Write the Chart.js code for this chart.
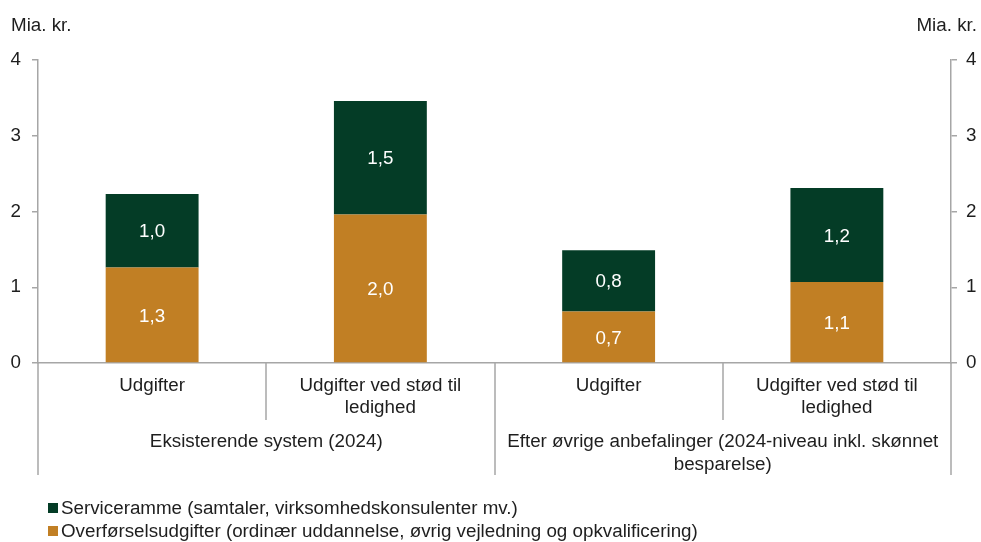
<!DOCTYPE html>
<html>
<head>
<meta charset="utf-8">
<script src="https://cdn.jsdelivr.net/npm/chart.js@4"></script>
<style>
  html, body { margin: 0; padding: 0; background: #ffffff; }
  #wrap { width: 981px; height: 542px; position: relative; }
</style>
</head>
<body>
<div id="wrap"><canvas id="c" width="981" height="542"></canvas></div>
<script>
// Categories (inner axis labels) and their groups
const categories = ['Udgifter', ['Udgifter ved stød til', 'ledighed'], 'Udgifter', ['Udgifter ved stød til', 'ledighed']];
const groupLabels = [['Eksisterende system (2024)'], ['Efter øvrige anbefalinger (2024-niveau inkl. skønnet', 'besparelse)']];
const groupSizes = [2, 2];

// Series values, bn. DKK
const transferValues = [1.26, 1.96, 0.68, 1.07];
const serviceValues = [0.97, 1.50, 0.81, 1.24];

const transferName = 'Overførselsudgifter (ordinær uddannelse, øvrig vejledning og opkvalificering)';
const serviceName = 'Serviceramme (samtaler, virksomhedskonsulenter mv.)';
const unitLabel = 'Mia. kr.';
const yTicks = [0, 1, 2, 3, 4];

const FONT = '"Liberation Sans", Arial, sans-serif';
const FS = 18.8;
const TEXT = '#1e1e1e';
const AXIS = '#a6a6a6';
const GREEN = '#043c26';
const ORANGE = '#c17f24';

const fmt = v => v.toFixed(1).replace('.', ',');

const decorations = {
  id: 'decorations',
  afterDatasetsDraw(chart) {
    const ctx = chart.ctx;
    ctx.save();
    ctx.font = FS + 'px ' + FONT;
    ctx.fillStyle = '#ffffff';
    ctx.textAlign = 'center';
    ctx.textBaseline = 'middle';
    chart.data.datasets.forEach((ds, di) => {
      const meta = chart.getDatasetMeta(di);
      meta.data.forEach((el, i) => {
        const p = el.getProps(['x', 'y', 'base'], true);
        ctx.fillText(fmt(ds.data[i]), p.x, (p.y + p.base) / 2 + 1.5);
      });
    });
    ctx.restore();
  },
  afterDraw(chart) {
    const ctx = chart.ctx;
    const area = chart.chartArea;
    const n = categories.length;
    const step = (area.right - area.left) / n;
    ctx.save();
    // unit titles
    ctx.font = FS + 'px ' + FONT;
    ctx.fillStyle = TEXT;
    ctx.textBaseline = 'alphabetic';
    ctx.textAlign = 'left';
    ctx.fillText(unitLabel, 11, 31);
    ctx.textAlign = 'right';
    ctx.fillText(unitLabel, 977, 31);

    // category separators
    ctx.strokeStyle = AXIS;
    ctx.lineWidth = 1.5;
    const groupEnds = [];
    let acc = 0;
    groupSizes.forEach(s => { acc += s; groupEnds.push(acc); });
    for (let b = 0; b <= n; b++) {
      const px = Math.round(area.left + b * step);
      const full = b === 0 || groupEnds.includes(b);
      ctx.beginPath();
      ctx.moveTo(px, area.bottom);
      ctx.lineTo(px, full ? 475 : 420);
      ctx.stroke();
    }

    // group labels
    ctx.fillStyle = TEXT;
    ctx.textAlign = 'center';
    let start = 0;
    groupLabels.forEach((lines, g) => {
      const end = start + groupSizes[g];
      const cx = area.left + (start + end) / 2 * step;
      lines.forEach((line, li) => ctx.fillText(line, cx, 447 + li * 23));
      start = end;
    });

    // legend
    const items = [[GREEN, serviceName], [ORANGE, transferName]];
    ctx.textAlign = 'left';
    ctx.textBaseline = 'middle';
    items.forEach((it, i) => {
      const cy = 508 + i * 23;
      ctx.fillStyle = it[0];
      ctx.fillRect(48, cy - 5, 10, 10);
      ctx.fillStyle = TEXT;
      ctx.fillText(it[1], 61, cy + 1);
    });
    ctx.restore();
  }
};

const yAxis = (position, width, pad) => ({
  position,
  stacked: true,
  min: 0,
  max: 4,
  afterBuildTicks: s => { s.ticks = yTicks.map(v => ({ value: v })); },
  afterFit: s => { s.width = width; },
  ticks: { color: TEXT, font: { family: FONT, size: FS }, padding: pad },
  grid: { display: true, drawOnChartArea: false, drawTicks: true, tickLength: 6, color: AXIS, lineWidth: 1.5 },
  border: { display: true, color: AXIS, width: 1.5 }
});

new Chart(document.getElementById('c'), {
  type: 'bar',
  data: {
    labels: categories,
    datasets: [
      { label: transferName, data: transferValues, backgroundColor: ORANGE, borderWidth: 0 },
      { label: serviceName, data: serviceValues, backgroundColor: GREEN, borderWidth: 0 }
    ]
  },
  options: {
    responsive: false,
    animation: false,
    devicePixelRatio: 1,
    layout: { padding: { top: 60, left: 0, right: 0, bottom: 0 } },
    categoryPercentage: 1,
    barPercentage: 0.407,
    plugins: { legend: { display: false }, tooltip: { enabled: false } },
    scales: {
      x: {
        stacked: true,
        afterFit: s => { s.height = 179; },
        ticks: { color: TEXT, font: { family: FONT, size: FS, lineHeight: 1.17 }, padding: 12, maxRotation: 0, autoSkip: false },
        grid: { display: false, drawTicks: false },
        border: { display: true, color: AXIS, width: 1.5 }
      },
      y: yAxis('left', 38, 11),
      y2: yAxis('right', 30, 9)
    }
  },
  plugins: [decorations]
});
</script>
</body>
</html>
